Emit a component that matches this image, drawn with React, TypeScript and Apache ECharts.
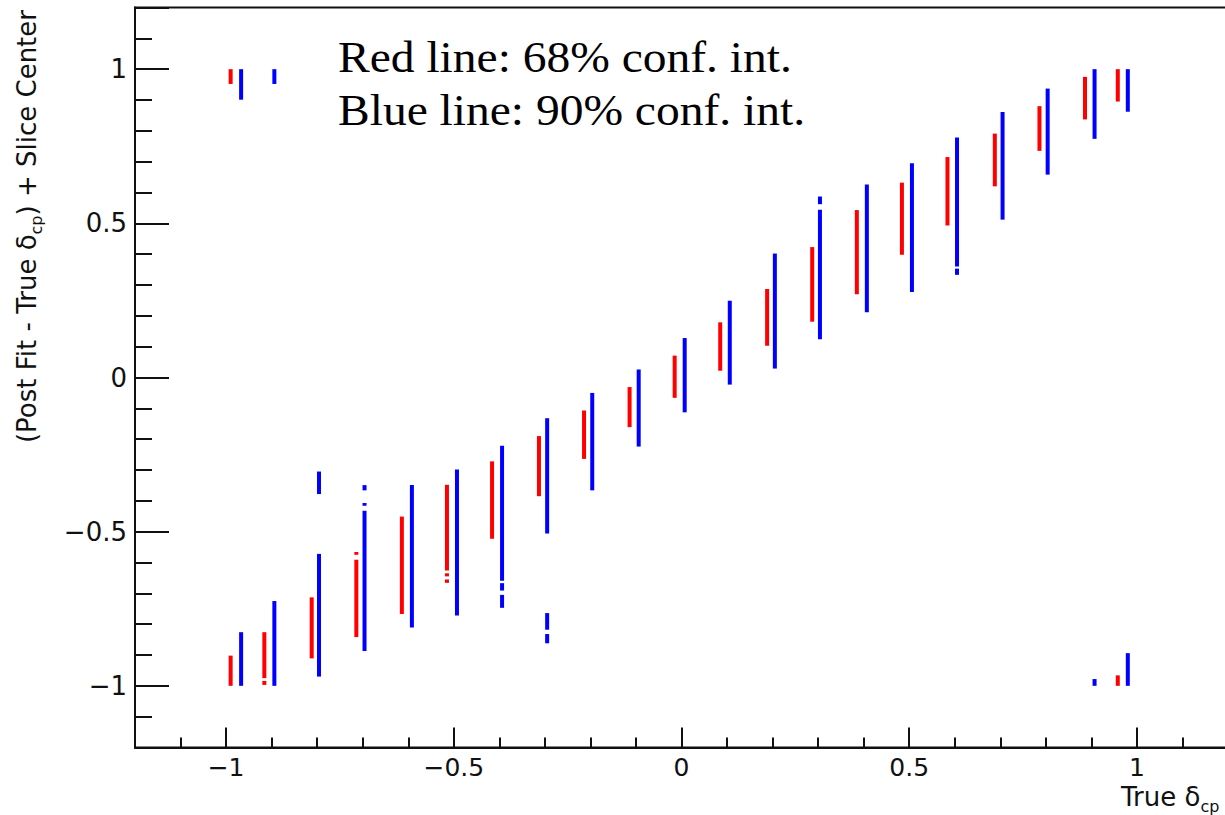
import React, { useEffect, useRef } from "react";
import * as echarts from "echarts";

// Axis ranges (true delta_cp on x, shifted post-fit value on y)
const xRange = [-1.2, 1.2];
const yRange = [-1.2, 1.2];

// 68% confidence-interval pieces: [true delta_cp, low, high]
const redSegments = [
  [-0.99, 0.952, 1.0],
  [-0.99, -1.0, -0.902],
  [-0.916, -0.975, -0.826],
  [-0.916, -0.997, -0.984],
  [-0.812, -0.911, -0.713],
  [-0.714, -0.842, -0.591],
  [-0.714, -0.575, -0.566],
  [-0.614, -0.767, -0.451],
  [-0.515, -0.626, -0.348],
  [-0.515, -0.645, -0.635],
  [-0.515, -0.666, -0.655],
  [-0.416, -0.523, -0.272],
  [-0.313, -0.385, -0.19],
  [-0.214, -0.264, -0.107],
  [-0.114, -0.161, -0.031],
  [-0.015, -0.066, 0.071],
  [0.085, 0.022, 0.179],
  [0.188, 0.103, 0.287],
  [0.287, 0.181, 0.423],
  [0.385, 0.27, 0.543],
  [0.484, 0.398, 0.632],
  [0.584, 0.493, 0.715],
  [0.688, 0.62, 0.791],
  [0.786, 0.735, 0.88],
  [0.886, 0.837, 0.975],
  [0.958, 0.895, 1.0],
  [0.958, -1.0, -0.966],
];

// 90% confidence-interval pieces: [true delta_cp, low, high]
const blueSegments = [
  [-0.967, 0.901, 1.0],
  [-0.967, -1.0, -0.826],
  [-0.894, 0.952, 1.0],
  [-0.894, -1.0, -0.725],
  [-0.796, -0.97, -0.572],
  [-0.796, -0.378, -0.305],
  [-0.696, -0.887, -0.432],
  [-0.696, -0.416, -0.407],
  [-0.696, -0.366, -0.349],
  [-0.592, -0.811, -0.349],
  [-0.493, -0.772, -0.298],
  [-0.394, -0.659, -0.221],
  [-0.394, -0.691, -0.667],
  [-0.394, -0.747, -0.705],
  [-0.295, -0.506, -0.132],
  [-0.295, -0.818, -0.764],
  [-0.295, -0.862, -0.832],
  [-0.196, -0.366, -0.05],
  [-0.094, -0.224, 0.026],
  [0.007, -0.113, 0.128],
  [0.106, -0.023, 0.249],
  [0.205, 0.029, 0.402],
  [0.304, 0.124, 0.544],
  [0.304, 0.562, 0.587],
  [0.407, 0.212, 0.626],
  [0.506, 0.277, 0.695],
  [0.605, 0.36, 0.778],
  [0.605, 0.333, 0.353],
  [0.705, 0.512, 0.861],
  [0.804, 0.658, 0.937],
  [0.907, 0.774, 1.0],
  [0.907, -1.0, -0.978],
  [0.98, 0.862, 1.0],
  [0.98, -1.0, -0.894],
];

const legendLines = ["Red line: 68% conf. int.", "Blue line: 90% conf. int."];

const INK = "#111";
const SANS = "DejaVu Sans";

const tickLabel = (v: number) => {
  if (Math.abs(v) > 1.05) return "";
  const r = Math.round(v * 10) / 10;
  return r === 0 ? "0" : String(r).replace("-", "\u2212");
};

const intervalSeries = (name: string, data: number[][], color: string) => ({
  type: "custom",
  name,
  data,
  encode: { x: 0, y: [1, 2] },
  renderItem: (_params: any, api: any) => {
    const x = api.value(0);
    const p1 = api.coord([x, api.value(1)]);
    const p2 = api.coord([x, api.value(2)]);
    return {
      type: "line",
      shape: { x1: p1[0], y1: p1[1], x2: p2[0], y2: p2[1] },
      style: { stroke: color, lineWidth: 4, lineCap: "butt" },
    };
  },
});

// main text sits at the top of a 26px line, the subscript hugs its bottom
const titleRich = {
  m: { fontFamily: SANS, fontSize: 26, lineHeight: 26, verticalAlign: "top", fill: INK },
  s: {
    fontFamily: SANS,
    fontSize: 16,
    lineHeight: 16,
    verticalAlign: "bottom",
    padding: [0, 0, -4, 0],
    fill: INK,
  },
};

export default function App() {
  const ref = useRef<HTMLDivElement>(null);

  useEffect(() => {
    if (!ref.current) return;
    const chart = echarts.init(ref.current, null, { renderer: "svg" });
    const axisCommon = {
      type: "value",
      splitLine: { show: false },
      axisLine: { show: true, onZero: false, lineStyle: { color: INK, width: 2 } },
      axisLabel: {
        formatter: tickLabel,
        fontFamily: SANS,
        fontSize: 26,
        color: INK,
      },
    };
    chart.setOption({
      animation: false,
      backgroundColor: "#fff",
      grid: {
        left: 135,
        top: 7.5,
        width: 1093,
        height: 740,
        show: true,
        borderColor: INK,
        borderWidth: 2,
      },
      xAxis: {
        ...axisCommon,
        min: xRange[0],
        max: xRange[1],
        splitNumber: 5,
        axisTick: { show: true, inside: true, length: 20, lineStyle: { color: INK, width: 2 } },
        minorTick: { show: true, splitNumber: 5, length: 10, lineStyle: { color: INK, width: 2 } },
        axisLabel: { ...axisCommon.axisLabel, fontSize: 25, margin: 9, lineHeight: 22 },
      },
      yAxis: {
        ...axisCommon,
        min: yRange[0],
        max: yRange[1],
        splitNumber: 5,
        axisTick: { show: true, inside: true, length: 34, lineStyle: { color: INK, width: 2 } },
        minorTick: { show: true, splitNumber: 5, length: 17, lineStyle: { color: INK, width: 2 } },
        axisLabel: { ...axisCommon.axisLabel, margin: 8 },
      },
      series: [
        intervalSeries("68% conf. int.", redSegments, "#ff0000"),
        intervalSeries("90% conf. int.", blueSegments, "#0000ff"),
      ],
      graphic: [
        {
          type: "text",
          x: 14,
          y: 10,
          rotation: Math.PI / 2,
          style: {
            text: "{m|(Post Fit - True \u03b4}{s|cp}{m|) + Slice Center}",
            align: "right",
            verticalAlign: "top",
            rich: titleRich,
          },
        },
        {
          type: "text",
          x: 1121,
          y: 784,
          style: {
            text: "{m|True \u03b4}{s|cp}",
            align: "left",
            verticalAlign: "top",
            rich: titleRich,
          },
        },
        ...legendLines.map((line, i) => ({
          type: "text",
          x: 338,
          y: 57 + i * 52.7,
          scaleX: 1.08,
          style: {
            text: line,
            fontFamily: "Liberation Serif",
            fontSize: 44,
            fill: "#000",
            align: "left",
            verticalAlign: "middle",
          },
        })),
      ],
    });
    return () => chart.dispose();
  }, []);

  return (
    <div
      style={{
        position: "fixed",
        left: 0,
        top: 0,
        width: 1225,
        height: 815,
        overflow: "hidden",
        background: "#fff",
      }}
    >
      <div ref={ref} style={{ width: 1240, height: 815 }} />
    </div>
  );
}
